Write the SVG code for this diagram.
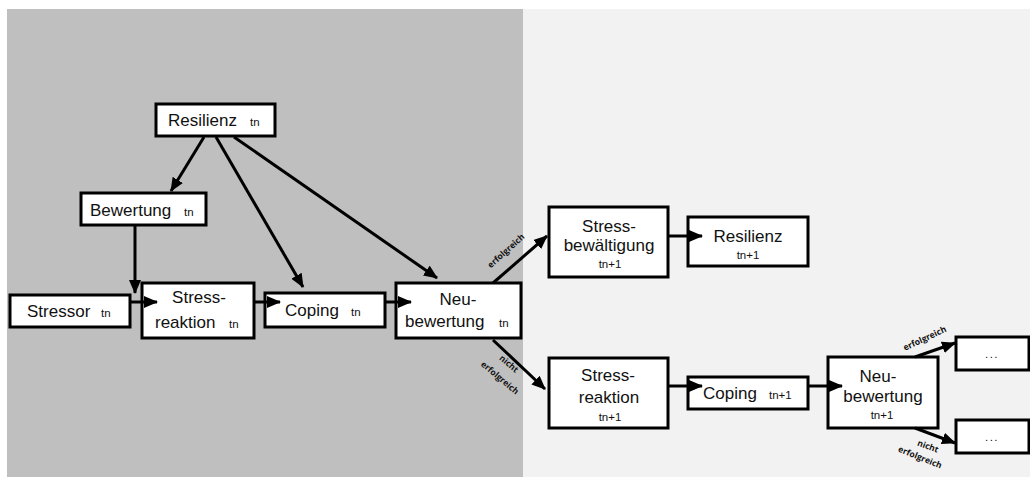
<svg xmlns="http://www.w3.org/2000/svg" width="1030" height="477" viewBox="0 0 1030 477">
<style>
.box{fill:#fff;stroke:#000;stroke-width:3}
.t{font-family:"Liberation Sans",Arial,sans-serif;font-size:17px;fill:#111}
.s{font-family:"Liberation Sans",Arial,sans-serif;font-size:11.5px;fill:#111}
.c{text-anchor:middle}
.lbl{font-family:"Open Sans","DejaVu Sans",sans-serif;font-size:8.5px;font-weight:bold;fill:#111;text-anchor:middle}
.ln{stroke:#000;stroke-width:3;fill:none;marker-end:url(#ah)}
</style>
<defs>
<marker id="ah" markerUnits="userSpaceOnUse" markerWidth="14" markerHeight="12" refX="13" refY="6" orient="auto">
<path d="M0,0 L14,6 L0,12 Z" fill="#000"/>
</marker>
</defs>
<rect x="0" y="0" width="1030" height="477" fill="#fff"/>
<rect x="7" y="9" width="516" height="468" fill="#bfbfbf"/>
<rect x="523" y="9" width="507" height="468" fill="#f2f2f2"/>

<g id="resilienz-tn">
<rect class="box" x="156" y="104" width="119" height="32"/>
<text class="t" x="168" y="126">Resilienz</text><text class="s" x="250" y="126">tn</text>
</g>
<g id="bewertung-tn">
<rect class="box" x="81" y="193" width="125" height="32"/>
<text class="t" x="90" y="216">Bewertung</text><text class="s" x="184" y="216">tn</text>
</g>
<g id="stressor-tn">
<rect class="box" x="10" y="295" width="120" height="32"/>
<text class="t" x="27" y="317">Stressor</text><text class="s" x="101" y="317">tn</text>
</g>
<g id="stressreaktion-tn">
<rect class="box" x="142" y="283" width="112" height="55"/>
<text class="t c" x="199" y="303">Stress-</text>
<text class="t" x="155" y="328">reaktion</text><text class="s" x="229" y="328">tn</text>
</g>
<g id="coping-tn">
<rect class="box" x="265" y="293" width="120" height="34"/>
<text class="t" x="285" y="316">Coping</text><text class="s" x="351" y="316">tn</text>
</g>
<g id="neubewertung-tn">
<rect class="box" x="396" y="283" width="125" height="55"/>
<text class="t c" x="458" y="305">Neu-</text>
<text class="t" x="405" y="327">bewertung</text><text class="s" x="499" y="327">tn</text>
</g>
<g id="stressbewaeltigung-tn1">
<rect class="box" x="549" y="207" width="119" height="70"/>
<text class="t c" x="609" y="232">Stress-</text>
<text class="t c" x="609" y="251">bewältigung</text>
<text class="s c" x="610" y="268">tn+1</text>
</g>
<g id="resilienz-tn1">
<rect class="box" x="688" y="217" width="120" height="49"/>
<text class="t c" x="748" y="242">Resilienz</text>
<text class="s c" x="748" y="259">tn+1</text>
</g>
<g id="stressreaktion-tn1">
<rect class="box" x="549" y="358" width="119" height="70"/>
<text class="t c" x="608" y="381">Stress-</text>
<text class="t c" x="609" y="403">reaktion</text>
<text class="s c" x="610" y="421">tn+1</text>
</g>
<g id="coping-tn1">
<rect class="box" x="688" y="377" width="120" height="32"/>
<text class="t" x="703" y="399">Coping</text><text class="s" x="769" y="399">tn+1</text>
</g>
<g id="neubewertung-tn1">
<rect class="box" x="828" y="357" width="110" height="71"/>
<text class="t c" x="878" y="382">Neu-</text>
<text class="t c" x="883" y="402">bewertung</text>
<text class="s c" x="882" y="419">tn+1</text>
</g>
<g id="weiter-erfolgreich">
<rect class="box" x="956" y="337" width="73" height="33"/>
<text class="s c" x="992" y="358" letter-spacing="1.5">...</text>
</g>
<g id="weiter-nicht-erfolgreich">
<rect class="box" x="956" y="420" width="73" height="33"/>
<text class="s c" x="992" y="441" letter-spacing="1.5">...</text>
</g>

<g id="connectors">
<line class="ln" x1="204" y1="137" x2="171" y2="191"/>
<line class="ln" x1="216" y1="137" x2="303" y2="287"/>
<line class="ln" x1="234" y1="137" x2="437" y2="278"/>
<line class="ln" x1="135" y1="225" x2="135" y2="293"/>
<line class="ln" x1="130" y1="302" x2="157" y2="302"/>
<line class="ln" x1="254" y1="302" x2="280" y2="302"/>
<line class="ln" x1="385" y1="302" x2="411" y2="302"/>
<line class="ln" x1="493" y1="283" x2="547" y2="236"/>
<line class="ln" x1="493" y1="340" x2="545" y2="389"/>
<line class="ln" x1="668" y1="236" x2="702" y2="236"/>
<line class="ln" x1="668" y1="386" x2="702" y2="386"/>
<line class="ln" x1="808" y1="386" x2="842" y2="386"/>
<line class="ln" x1="915" y1="357" x2="955" y2="343"/>
<line class="ln" x1="915" y1="428" x2="955" y2="443"/>
<text class="lbl" transform="translate(508,253) rotate(-42)">erfolgreich</text>
<text class="lbl" transform="translate(507,366) rotate(40)">nicht</text>
<text class="lbl" transform="translate(498,380) rotate(40)">erfolgreich</text>
<text class="lbl" transform="translate(926,341) rotate(-25)">erfolgreich</text>
<text class="lbl" transform="translate(927,449) rotate(20)">nicht</text>
<text class="lbl" transform="translate(919,460) rotate(22)">erfolgreich</text>
</g>
</svg>
